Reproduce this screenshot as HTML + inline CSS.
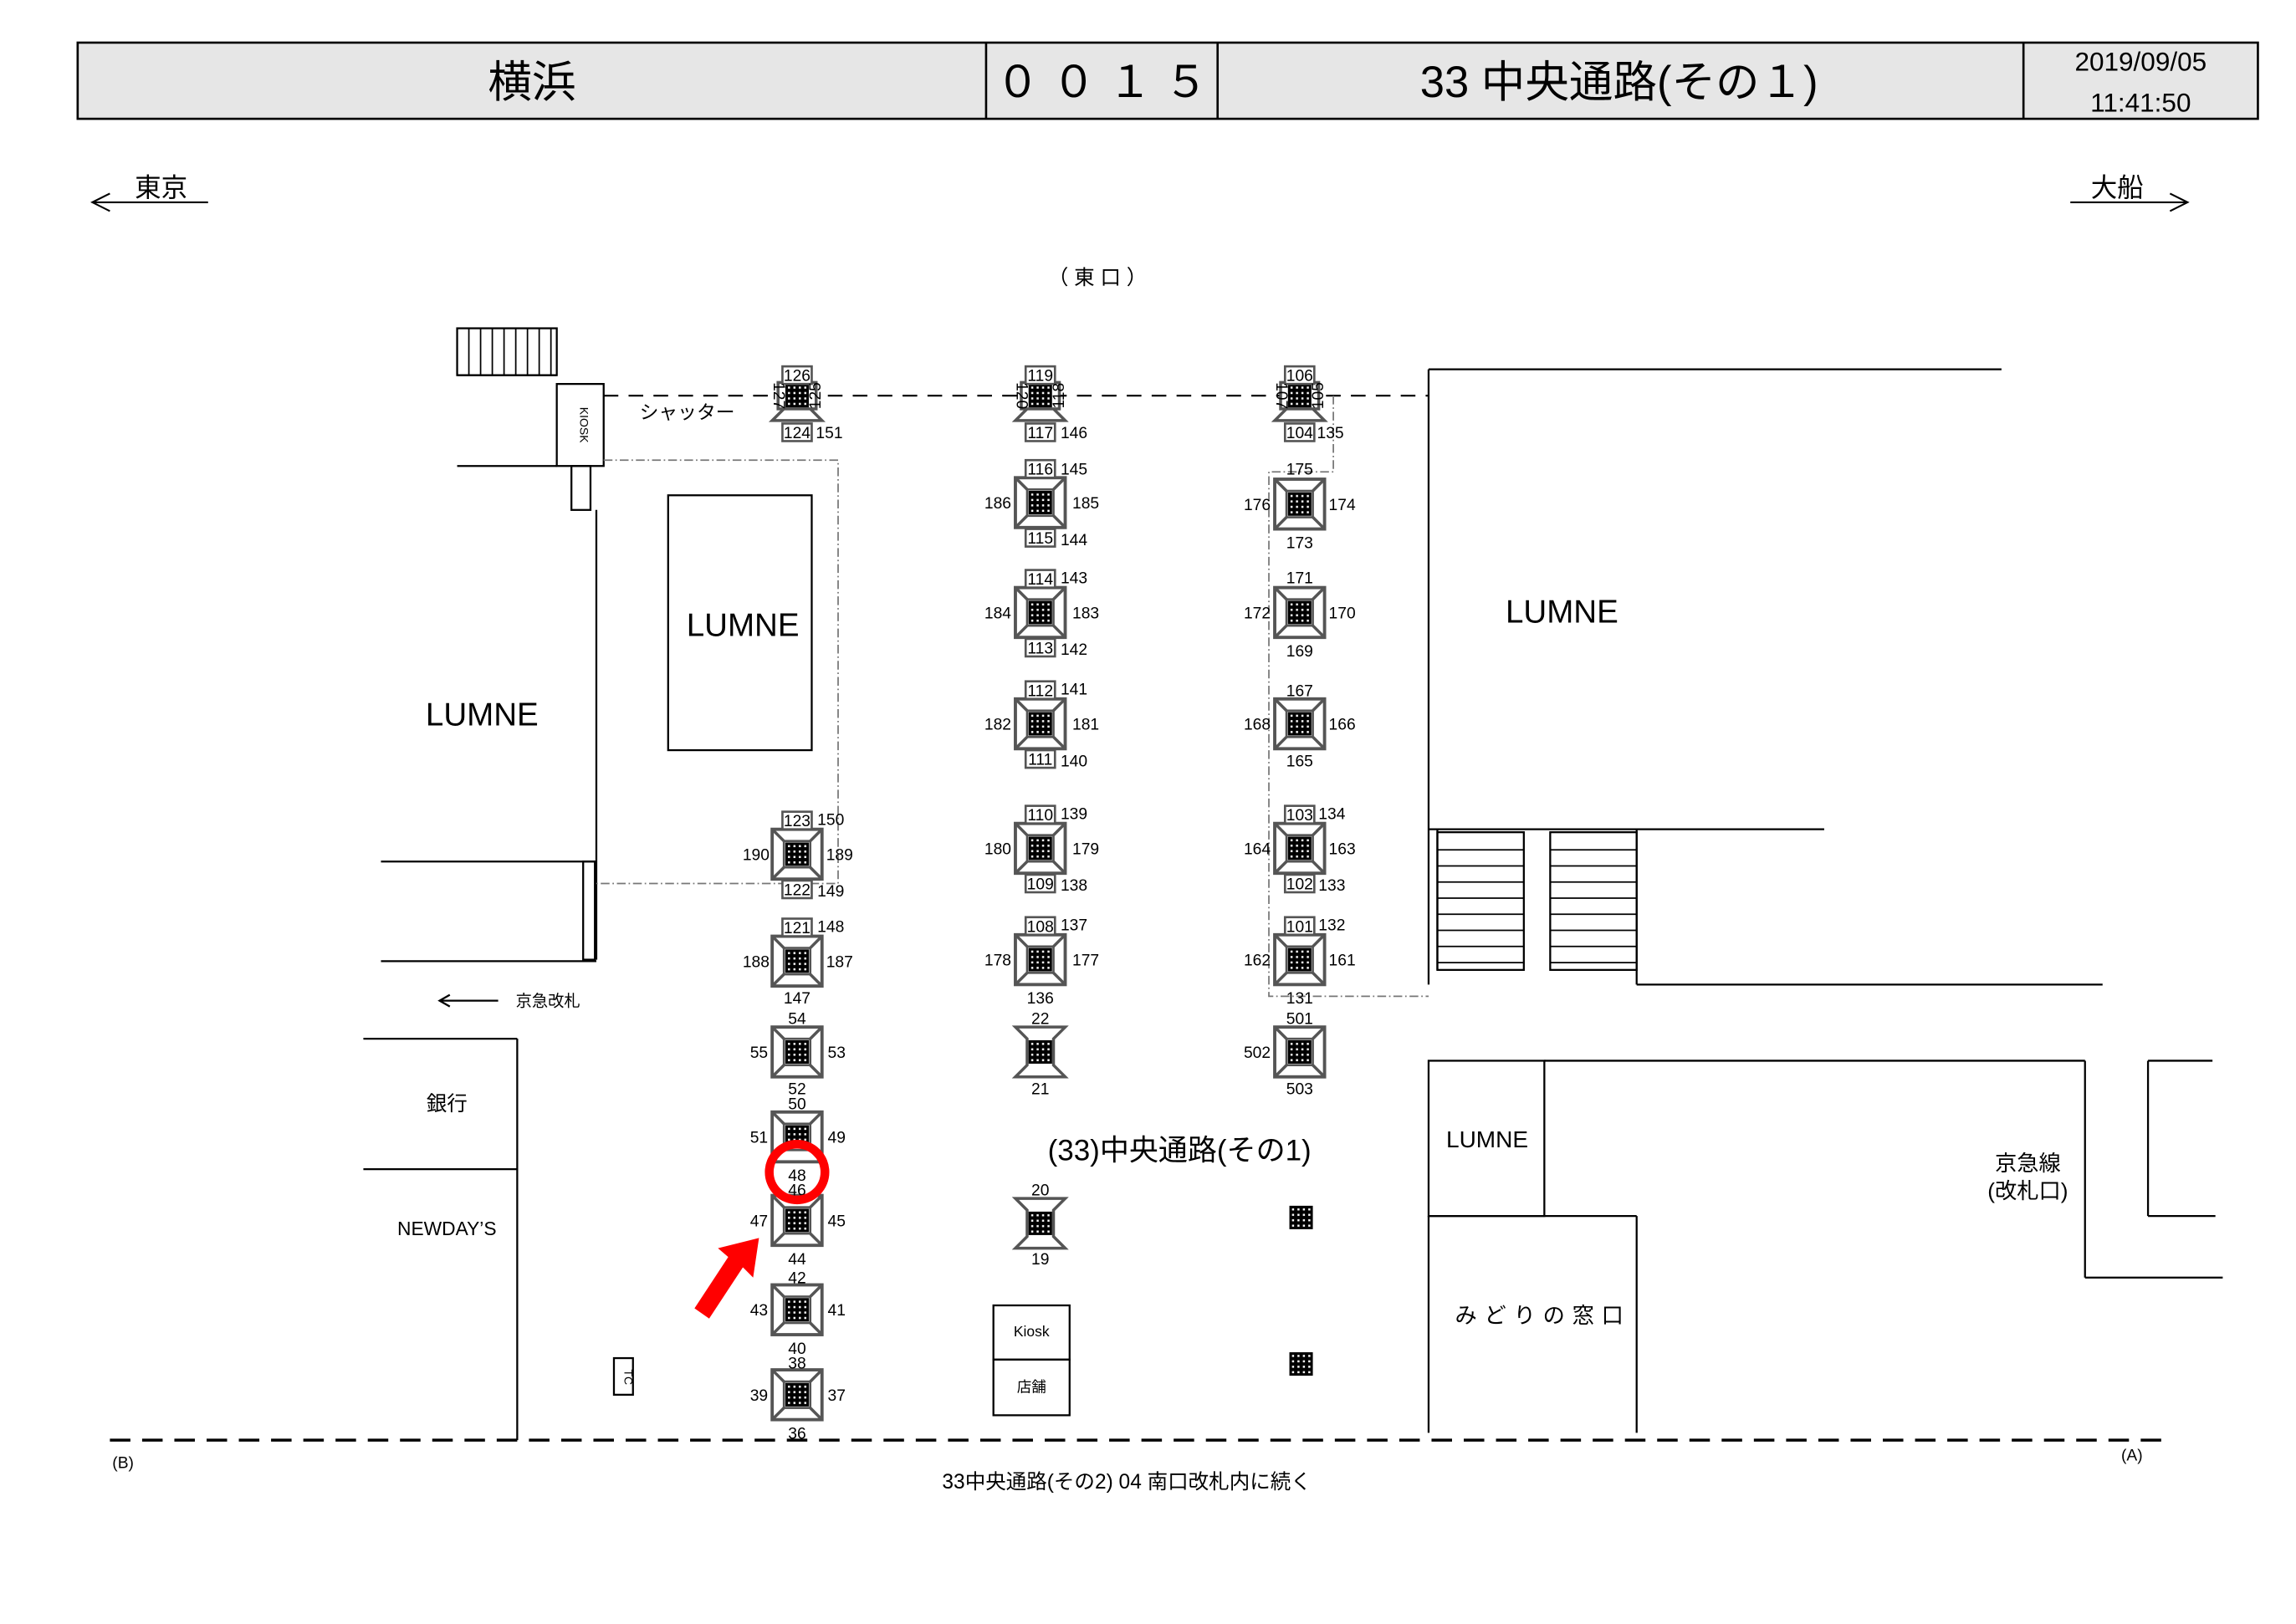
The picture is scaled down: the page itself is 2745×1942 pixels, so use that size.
<!DOCTYPE html>
<html><head><meta charset="utf-8"><style>
html,body{margin:0;padding:0;background:#fff}
svg{display:block}
text{font-family:"Liberation Sans","Noto Sans CJK JP",sans-serif;fill:#000}
.n{font-size:11px;text-anchor:middle}
</style></head><body>
<svg xmlns="http://www.w3.org/2000/svg" xmlns:xlink="http://www.w3.org/1999/xlink" width="2745" height="1942" viewBox="0 0 1567 1108.4">
<defs>
<pattern id="dots" x="0" y="0" width="3.7" height="3.7" patternUnits="userSpaceOnUse"><rect width="3.7" height="3.7" fill="#000"/><rect x="1.2" y="1.2" width="1.4" height="1.4" fill="#fff"/></pattern>
<g id="core"><rect x="-8" y="-8" width="16" height="16" fill="url(#dots)"/></g>
<g id="sq">
<rect x="-17" y="-17" width="34" height="34" fill="#fff" stroke="#555" stroke-width="2.2"/>
<g stroke="#555" stroke-width="2"><line x1="-17" y1="-17" x2="-9" y2="-9"/><line x1="17" y1="-17" x2="9" y2="-9"/><line x1="17" y1="17" x2="9" y2="9"/><line x1="-17" y1="17" x2="-9" y2="9"/></g>
<rect x="-9" y="-9" width="18" height="18" fill="none" stroke="#555" stroke-width="1.5"/>
<use xlink:href="#core" href="#core"/>
</g>
<g id="hg"><polygon points="-17,-17 17,-17 9,-9 9,9 17,17 -17,17 -9,9 -9,-9" fill="#fff" stroke="#555" stroke-width="2"/><use xlink:href="#core" href="#core"/></g>
<g id="tp"><polygon points="-17,17 17,17 8,8 -8,8" fill="#fff" stroke="#555" stroke-width="2"/><rect x="-13" y="-9" width="26" height="18" fill="#fff" stroke="#555" stroke-width="2"/><use xlink:href="#core" href="#core"/></g>
<g id="bx"><rect x="-10" y="-6" width="20" height="12" fill="#fff" stroke="#555" stroke-width="1.5"/></g>
</defs>
<rect width="1570" height="1110" fill="#fff"/>
<rect x="53" y="29" width="1488" height="52" fill="#e6e6e6" stroke="#000" stroke-width="1.5"/>
<line x1="673" y1="29" x2="673" y2="81" stroke="#000" stroke-width="1.5"/>
<line x1="831" y1="29" x2="831" y2="81" stroke="#000" stroke-width="1.5"/>
<line x1="1381" y1="29" x2="1381" y2="81" stroke="#000" stroke-width="1.5"/>
<text x="363" y="66" font-size="30" text-anchor="middle">横浜</text>
<text x="752" y="66" font-size="30" text-anchor="middle">０ ０ １ ５</text>
<text x="1105" y="66" font-size="30" text-anchor="middle">33 中央通路(その１)</text>
<text x="1461" y="48" font-size="18" text-anchor="middle">2019/09/05</text>
<text x="1461" y="76" font-size="18" text-anchor="middle">11:41:50</text>
<g stroke="#000" stroke-width="1.2" fill="none">
<line x1="63" y1="138" x2="142" y2="138"/><polyline points="75,132 63,138 75,144"/>
<line x1="1413" y1="138" x2="1493" y2="138"/><polyline points="1481,132 1493,138 1481,144"/>
</g>
<text x="110" y="134" font-size="18" text-anchor="middle">東京</text>
<text x="1445" y="134" font-size="18" text-anchor="middle">大船</text>
<text x="749" y="194" font-size="14" text-anchor="middle">（ 東 口 ）</text>
<g stroke="#000" stroke-width="1.3" fill="none">
<rect x="312" y="224" width="68" height="32"/>
<line x1="312" y1="256" x2="380" y2="256"/>
<line x1="312" y1="318" x2="380" y2="318"/>
<rect x="380" y="262" width="32" height="56"/>
<rect x="390" y="318" width="13" height="30"/>
<line x1="407" y1="348" x2="407" y2="655"/>
<line x1="260" y1="588" x2="407" y2="588"/>
<line x1="260" y1="656" x2="407" y2="656"/>
<rect x="398" y="588" width="8" height="67"/>
<rect x="456" y="338" width="98" height="174"/>
<line x1="248" y1="709" x2="353" y2="709"/>
<line x1="353" y1="709" x2="353" y2="983"/>
<line x1="248" y1="798" x2="353" y2="798"/>
<rect x="419" y="927" width="13" height="25"/>
<rect x="678" y="891" width="52" height="37"/>
<rect x="678" y="928" width="52" height="38"/>
<line x1="975" y1="252" x2="975" y2="672"/>
<line x1="975" y1="252" x2="1366" y2="252"/>
<line x1="975" y1="566" x2="1245" y2="566"/>
<line x1="981" y1="566" x2="981" y2="662"/>
<line x1="1117" y1="566" x2="1117" y2="672"/>
<line x1="1117" y1="672" x2="1435" y2="672"/>
<rect x="981" y="568" width="59" height="94"/>
<rect x="1058" y="568" width="59" height="94"/>
<rect x="975" y="724" width="79" height="106"/>
<line x1="1054" y1="724" x2="1423" y2="724"/>
<line x1="1423" y1="724" x2="1423" y2="872"/>
<line x1="1423" y1="872" x2="1517" y2="872"/>
<line x1="975" y1="830" x2="975" y2="978"/>
<line x1="975" y1="830" x2="1117" y2="830"/>
<line x1="1117" y1="830" x2="1117" y2="978"/>
<line x1="1466" y1="724" x2="1510" y2="724"/>
<line x1="1466" y1="724" x2="1466" y2="830"/>
<line x1="1466" y1="830" x2="1512" y2="830"/>
<line x1="300" y1="683" x2="340" y2="683"/><polyline points="307,679 300,683 307,687"/>
</g>
<g stroke="#000" stroke-width="1">
<line x1="320" y1="224" x2="320" y2="256"/><line x1="328" y1="224" x2="328" y2="256"/><line x1="336" y1="224" x2="336" y2="256"/><line x1="344" y1="224" x2="344" y2="256"/><line x1="352" y1="224" x2="352" y2="256"/><line x1="360" y1="224" x2="360" y2="256"/><line x1="368" y1="224" x2="368" y2="256"/><line x1="376" y1="224" x2="376" y2="256"/>
<line x1="981" y1="580" x2="1040" y2="580"/><line x1="981" y1="591" x2="1040" y2="591"/><line x1="981" y1="602" x2="1040" y2="602"/><line x1="981" y1="613" x2="1040" y2="613"/><line x1="981" y1="624" x2="1040" y2="624"/><line x1="981" y1="635" x2="1040" y2="635"/><line x1="981" y1="646" x2="1040" y2="646"/><line x1="981" y1="657" x2="1040" y2="657"/>
<line x1="1058" y1="580" x2="1117" y2="580"/><line x1="1058" y1="591" x2="1117" y2="591"/><line x1="1058" y1="602" x2="1117" y2="602"/><line x1="1058" y1="613" x2="1117" y2="613"/><line x1="1058" y1="624" x2="1117" y2="624"/><line x1="1058" y1="635" x2="1117" y2="635"/><line x1="1058" y1="646" x2="1117" y2="646"/><line x1="1058" y1="657" x2="1117" y2="657"/>
</g>
<g fill="none" stroke="#000">
<line x1="412" y1="270" x2="975" y2="270" stroke-width="1.3" stroke-dasharray="10,7"/>
<line x1="75" y1="983" x2="1480" y2="983" stroke-width="2" stroke-dasharray="14,8"/>
<polyline points="412,314 572,314 572,603 407,603" stroke="#777" stroke-width="1" stroke-dasharray="6,2,1,2"/>
<polyline points="910,270 910,322 866,322 866,680 975,680" stroke="#777" stroke-width="1" stroke-dasharray="6,2,1,2"/>
</g>
<use href="#tp" xlink:href="#tp" transform="translate(544,270)"/>
<use href="#tp" xlink:href="#tp" transform="translate(710,270)"/>
<use href="#tp" xlink:href="#tp" transform="translate(887,270)"/>
<use href="#sq" xlink:href="#sq" transform="translate(544,583)"/>
<use href="#sq" xlink:href="#sq" transform="translate(544,656)"/>
<use href="#sq" xlink:href="#sq" transform="translate(544,718)"/>
<use href="#sq" xlink:href="#sq" transform="translate(544,776)"/>
<use href="#sq" xlink:href="#sq" transform="translate(544,833)"/>
<use href="#sq" xlink:href="#sq" transform="translate(544,894)"/>
<use href="#sq" xlink:href="#sq" transform="translate(544,952)"/>
<use href="#sq" xlink:href="#sq" transform="translate(710,343)"/>
<use href="#sq" xlink:href="#sq" transform="translate(710,418)"/>
<use href="#sq" xlink:href="#sq" transform="translate(710,494)"/>
<use href="#sq" xlink:href="#sq" transform="translate(710,579)"/>
<use href="#sq" xlink:href="#sq" transform="translate(710,655)"/>
<use href="#sq" xlink:href="#sq" transform="translate(887,344)"/>
<use href="#sq" xlink:href="#sq" transform="translate(887,418)"/>
<use href="#sq" xlink:href="#sq" transform="translate(887,494)"/>
<use href="#sq" xlink:href="#sq" transform="translate(887,579)"/>
<use href="#sq" xlink:href="#sq" transform="translate(887,655)"/>
<use href="#sq" xlink:href="#sq" transform="translate(887,718)"/>
<use href="#hg" xlink:href="#hg" transform="translate(710,718)"/>
<use href="#hg" xlink:href="#hg" transform="translate(710,835)"/>
<use href="#core" xlink:href="#core" transform="translate(888,831)"/>
<use href="#core" xlink:href="#core" transform="translate(888,931)"/>
<use href="#bx" xlink:href="#bx" transform="translate(544,256)"/><use href="#bx" xlink:href="#bx" transform="translate(544,295)"/>
<use href="#bx" xlink:href="#bx" transform="translate(710,256)"/><use href="#bx" xlink:href="#bx" transform="translate(710,295)"/>
<use href="#bx" xlink:href="#bx" transform="translate(887,256)"/><use href="#bx" xlink:href="#bx" transform="translate(887,295)"/>
<use href="#bx" xlink:href="#bx" transform="translate(544,560)"/><use href="#bx" xlink:href="#bx" transform="translate(544,607)"/>
<use href="#bx" xlink:href="#bx" transform="translate(544,633)"/>
<use href="#bx" xlink:href="#bx" transform="translate(710,320)"/><use href="#bx" xlink:href="#bx" transform="translate(710,367)"/>
<use href="#bx" xlink:href="#bx" transform="translate(710,395)"/><use href="#bx" xlink:href="#bx" transform="translate(710,442)"/>
<use href="#bx" xlink:href="#bx" transform="translate(710,471)"/><use href="#bx" xlink:href="#bx" transform="translate(710,518)"/>
<use href="#bx" xlink:href="#bx" transform="translate(710,556)"/><use href="#bx" xlink:href="#bx" transform="translate(710,603)"/>
<use href="#bx" xlink:href="#bx" transform="translate(710,632)"/>
<use href="#bx" xlink:href="#bx" transform="translate(887,556)"/><use href="#bx" xlink:href="#bx" transform="translate(887,603)"/>
<use href="#bx" xlink:href="#bx" transform="translate(887,632)"/>
<g class="n">
<text class="n" x="544" y="260">126</text><text class="n" x="544" y="299">124</text><text class="n" x="566" y="299">151</text>
<text class="n" x="528" y="270" transform="rotate(90 528 270)">127</text><text class="n" x="560" y="270" transform="rotate(-90 560 270)">125</text>
<text class="n" x="710" y="260">119</text><text class="n" x="710" y="299">117</text><text class="n" x="733" y="299">146</text>
<text class="n" x="694" y="270" transform="rotate(90 694 270)">120</text><text class="n" x="726" y="270" transform="rotate(-90 726 270)">118</text>
<text class="n" x="887" y="260">106</text><text class="n" x="887" y="299">104</text><text class="n" x="908" y="299">135</text>
<text class="n" x="871" y="270" transform="rotate(90 871 270)">107</text><text class="n" x="903" y="270" transform="rotate(-90 903 270)">105</text>
<text class="n" x="544" y="564">123</text><text class="n" x="567" y="563">150</text><text class="n" x="516" y="587">190</text><text class="n" x="573" y="587">189</text><text class="n" x="544" y="611">122</text><text class="n" x="567" y="612">149</text>
<text class="n" x="544" y="637">121</text><text class="n" x="567" y="636">148</text><text class="n" x="516" y="660">188</text><text class="n" x="573" y="660">187</text><text class="n" x="544" y="685">147</text>
<text class="n" x="544" y="699">54</text><text class="n" x="518" y="722">55</text><text class="n" x="571" y="722">53</text><text class="n" x="544" y="747">52</text>
<text class="n" x="544" y="757">50</text><text class="n" x="518" y="780">51</text><text class="n" x="571" y="780">49</text><text class="n" x="544" y="806">48</text>
<text class="n" x="544" y="816">46</text><text class="n" x="518" y="837">47</text><text class="n" x="571" y="837">45</text><text class="n" x="544" y="863">44</text>
<text class="n" x="544" y="876">42</text><text class="n" x="518" y="898">43</text><text class="n" x="571" y="898">41</text><text class="n" x="544" y="924">40</text>
<text class="n" x="544" y="934">38</text><text class="n" x="518" y="956">39</text><text class="n" x="571" y="956">37</text><text class="n" x="544" y="982">36</text>
<text class="n" x="710" y="324">116</text><text class="n" x="733" y="324">145</text><text class="n" x="681" y="347">186</text><text class="n" x="741" y="347">185</text><text class="n" x="710" y="371">115</text><text class="n" x="733" y="372">144</text>
<text class="n" x="710" y="399">114</text><text class="n" x="733" y="398">143</text><text class="n" x="681" y="422">184</text><text class="n" x="741" y="422">183</text><text class="n" x="710" y="446">113</text><text class="n" x="733" y="447">142</text>
<text class="n" x="710" y="475">112</text><text class="n" x="733" y="474">141</text><text class="n" x="681" y="498">182</text><text class="n" x="741" y="498">181</text><text class="n" x="710" y="522">111</text><text class="n" x="733" y="523">140</text>
<text class="n" x="710" y="560">110</text><text class="n" x="733" y="559">139</text><text class="n" x="681" y="583">180</text><text class="n" x="741" y="583">179</text><text class="n" x="710" y="607">109</text><text class="n" x="733" y="608">138</text>
<text class="n" x="710" y="636">108</text><text class="n" x="733" y="635">137</text><text class="n" x="681" y="659">178</text><text class="n" x="741" y="659">177</text><text class="n" x="710" y="685">136</text>
<text class="n" x="710" y="699">22</text><text class="n" x="710" y="747">21</text><text class="n" x="710" y="816">20</text><text class="n" x="710" y="863">19</text>
<text class="n" x="887" y="324">175</text><text class="n" x="858" y="348">176</text><text class="n" x="916" y="348">174</text><text class="n" x="887" y="374">173</text>
<text class="n" x="887" y="398">171</text><text class="n" x="858" y="422">172</text><text class="n" x="916" y="422">170</text><text class="n" x="887" y="448">169</text>
<text class="n" x="887" y="475">167</text><text class="n" x="858" y="498">168</text><text class="n" x="916" y="498">166</text><text class="n" x="887" y="523">165</text>
<text class="n" x="887" y="560">103</text><text class="n" x="909" y="559">134</text><text class="n" x="858" y="583">164</text><text class="n" x="916" y="583">163</text><text class="n" x="887" y="607">102</text><text class="n" x="909" y="608">133</text>
<text class="n" x="887" y="636">101</text><text class="n" x="909" y="635">132</text><text class="n" x="858" y="659">162</text><text class="n" x="916" y="659">161</text><text class="n" x="887" y="685">131</text>
<text class="n" x="887" y="699">501</text><text class="n" x="858" y="722">502</text><text class="n" x="887" y="747">503</text>
</g>
<text x="329" y="495" font-size="22" text-anchor="middle">LUMNE</text>
<text x="507" y="434" font-size="22" text-anchor="middle">LUMNE</text>
<text x="1066" y="425" font-size="22" text-anchor="middle">LUMNE</text>
<text x="1015" y="783" font-size="16" text-anchor="middle">LUMNE</text>
<text x="469" y="286" font-size="13" text-anchor="middle">シャッター</text>
<text x="374" y="687" font-size="11" text-anchor="middle">京急改札</text>
<text x="305" y="758" font-size="14" text-anchor="middle">銀行</text>
<text x="305" y="843" font-size="13" text-anchor="middle">NEWDAY’S</text>
<text x="704" y="912" font-size="10" text-anchor="middle">Kiosk</text>
<text x="704" y="950" font-size="10" text-anchor="middle">店舗</text>
<text x="805" y="792" font-size="20" text-anchor="middle">(33)中央通路(その1)</text>
<text x="1053" y="903" font-size="15" text-anchor="middle" letter-spacing="5">みどりの窓口</text>
<text x="1384" y="799" font-size="15" text-anchor="middle">京急線</text>
<text x="1384" y="818" font-size="15" text-anchor="middle">(改札口)</text>
<text x="84" y="1002" font-size="11" text-anchor="middle">(B)</text>
<text x="1455" y="997" font-size="11" text-anchor="middle">(A)</text>
<text x="769" y="1016" font-size="14" text-anchor="middle">33中央通路(その2) 04 南口改札内に続く</text>
<text x="396" y="290" font-size="8" text-anchor="middle" transform="rotate(90 396 290)">KIOSK</text>
<text x="426" y="940" font-size="8" text-anchor="middle" transform="rotate(90 426 940)">TC</text>
<circle cx="544" cy="800" r="19" fill="none" stroke="#f00" stroke-width="6"/>
<polygon points="518,845 514,872 507,865 484,900 474,893 497,858 490,852" fill="#f00"/>
</svg>
</body></html>
